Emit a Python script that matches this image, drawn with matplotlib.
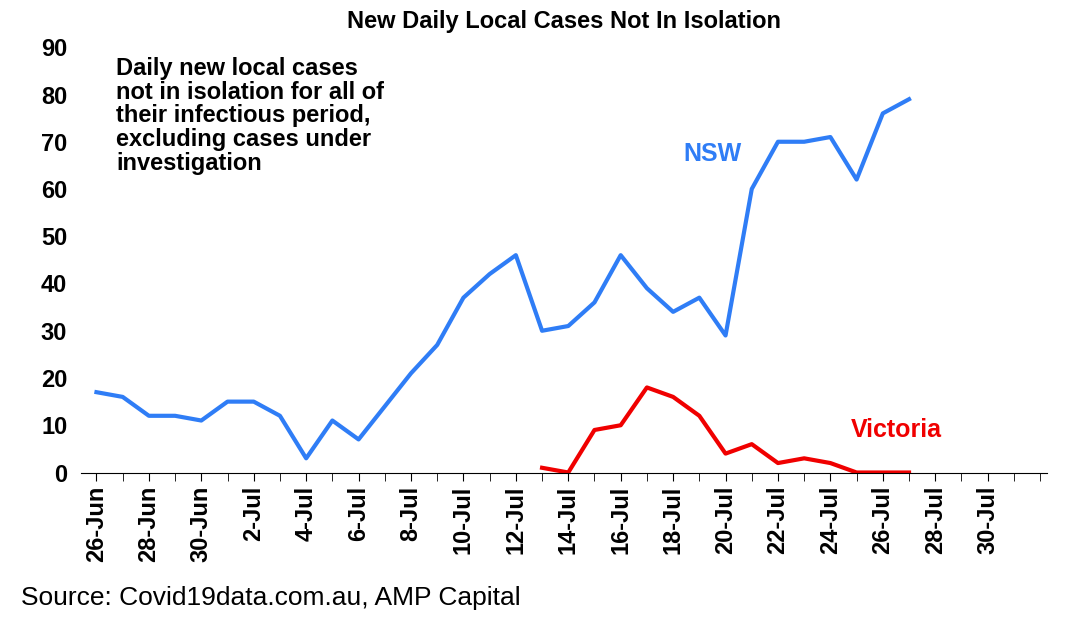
import matplotlib
matplotlib.use("Agg")
import matplotlib.pyplot as plt
import matplotlib.dates as mdates
import pandas as pd
import numpy as np

plt.rcParams['font.family'] = ['Liberation Sans', 'DejaVu Sans']

nsw_dates = pd.date_range("2021-06-26", "2021-07-27")
nsw = [17, 16, 12, 12, 11, 15, 15, 12, 3, 11, 7, 14, 21, 27, 37, 42, 46, 30, 31, 36,
       46, 39, 34, 37, 29, 60, 70, 70, 71, 62, 76, 79]
vic_dates = pd.date_range("2021-07-13", "2021-07-27")
vic = [1, 0, 9, 10, 18, 16, 12, 4, 6, 2, 3, 2, 0, 0, 0]

fig = plt.figure(figsize=(10.68, 6.30), dpi=100)
ax = fig.add_axes([0.076, 0.25, 0.904, 0.675])
ax.plot(nsw_dates, nsw, color="#2F7DF6", lw=3)
ax.plot(vic_dates, vic, color="#F00000", lw=3)

ax.set_ylim(0, 90)
ax.set_yticks(range(0, 91, 10))
ax.set_xlim(pd.Timestamp("2021-06-25 10:00"), pd.Timestamp("2021-08-01 06:00"))
ticks = pd.date_range("2021-06-26", "2021-07-30", freq="2D")
ax.set_xticks(ticks)
ax.set_xticklabels([f"{d.day}-{d.strftime('%b')}" for d in ticks], rotation=90,
                   fontsize=17, fontweight="bold")
ax.xaxis.set_minor_locator(mdates.DayLocator())
ax.tick_params(axis="x", which="both", length=6, direction="out")
ax.tick_params(axis="y", labelsize=17, length=0, pad=10)
for l in ax.get_yticklabels():
    l.set_fontweight("bold")
for s in ["top", "right", "left"]:
    ax.spines[s].set_visible(False)

ax.set_title("New Daily Local Cases Not In Isolation", fontsize=17, fontweight="bold", pad=14)
ax.text(pd.Timestamp("2021-06-26 18:00"), 88,
        "Daily new local cases\nnot in isolation for all of\ntheir infectious period,\nexcluding cases under\ninvestigation",
        fontsize=17, fontweight="bold", va="top", linespacing=1.05)
ax.text(pd.Timestamp("2021-07-19 12:00"), 66, "NSW", color="#2F7DF6", fontsize=18, fontweight="bold", ha="center")
ax.text(pd.Timestamp("2021-07-26 12:00"), 7.5, "Victoria", color="#F00000", fontsize=18, fontweight="bold", ha="center")
fig.text(0.02, 0.04, "Source: Covid19data.com.au, AMP Capital", fontsize=19)
fig.savefig("out.png", dpi=100)
